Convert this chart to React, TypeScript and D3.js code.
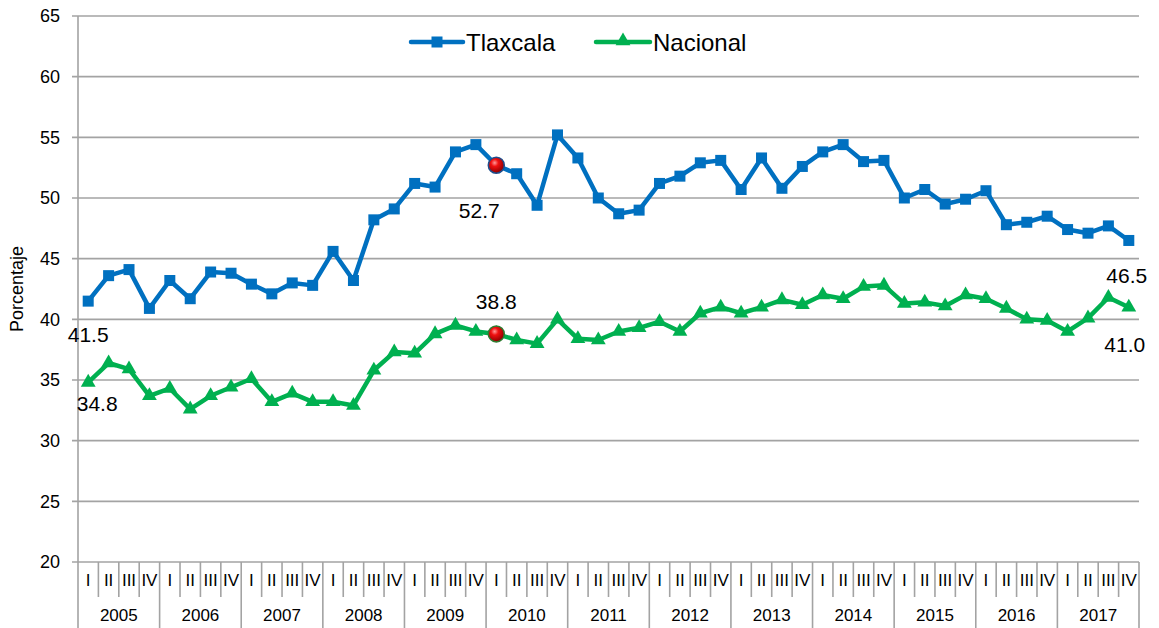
import React from "react";
import * as d3 from "d3";

// ── Datos ────────────────────────────────────────────────────────────────
const years = ["2005", "2006", "2007", "2008", "2009", "2010", "2011", "2012", "2013", "2014", "2015", "2016", "2017"];
const quarters = ["I", "II", "III", "IV"];

const tlaxcala = [
  41.5, 43.6, 44.1, 40.9,
  43.2, 41.7, 43.9, 43.8,
  42.9, 42.1, 43.0, 42.8,
  45.6, 43.2, 48.2, 49.1,
  51.2, 50.9, 53.8, 54.4,
  52.7, 52.0, 49.4, 55.2,
  53.3, 50.0, 48.7, 49.0,
  51.2, 51.8, 52.9, 53.1,
  50.7, 53.3, 50.8, 52.6,
  53.8, 54.4, 53.0, 53.1,
  50.0, 50.7, 49.5, 49.9,
  50.6, 47.8, 48.0, 48.5,
  47.4, 47.1, 47.7, 46.5,
];

const nacional = [
  34.8, 36.4, 35.9, 33.7,
  34.3, 32.6, 33.7, 34.4,
  35.1, 33.2, 33.9, 33.2,
  33.2, 32.9, 35.8, 37.3,
  37.2, 38.8, 39.5, 39.0,
  38.8, 38.3, 38.0, 40.0,
  38.4, 38.3, 39.0, 39.3,
  39.8, 39.0, 40.5, 41.0,
  40.5, 41.0, 41.6, 41.2,
  42.0, 41.7, 42.7, 42.8,
  41.3, 41.4, 41.1, 42.0,
  41.7, 40.9, 40.0, 39.9,
  39.0, 40.1, 41.8, 41.0,
];

const yTicks = [20, 25, 30, 35, 40, 45, 50, 55, 60, 65];
const highlightIdx = 20; // 2010 I

const W = 1159;
const H = 628;
const FONT = "'Liberation Sans', Arial, sans-serif";
const BLUE = "#0070C0";
const GREEN = "#00B050";
const GRID = "#a3a3a3";

export default function App() {
  const idx = d3.range(years.length * quarters.length);
  const x = d3.scaleBand<number>().domain(idx).range([78, 1139]).padding(0);
  const y = d3.scaleLinear().domain([20, 65]).range([562, 16]);
  const cx = (i: number) => (x(i) ?? 0) + x.bandwidth() / 2;
  const bw = x.bandwidth();

  const line = d3.line<number>().x((_, i) => cx(i)).y((d) => y(d));
  const sq = 11;
  const tri = d3.symbol().type(d3.symbolTriangle).size(95)() ?? "";

  const labelTxt = (v: number) => v.toFixed(1);
  const last = idx.length - 1;

  return (
    <svg
      width={W}
      height={H}
      style={{ position: "fixed", left: 0, top: 0, background: "#fff" }}
      fontFamily={FONT}
    >
      <defs>
        <radialGradient id="ball" cx="40%" cy="35%" r="65%">
          <stop offset="0%" stopColor="#ff9a9a" />
          <stop offset="35%" stopColor="#f01010" />
          <stop offset="100%" stopColor="#8a0000" />
        </radialGradient>
      </defs>
      <rect width={W} height={H} fill="#fff" />

      {/* Grid */}
      {yTicks.map((t) => (
        <g key={t}>
          <line x1={72} x2={1139} y1={y(t)} y2={y(t)} stroke={GRID} strokeWidth={1.6} />
          <text x={60} y={y(t)} dy="0.36em" textAnchor="end" fontSize={18} fill="#000">
            {t}
          </text>
        </g>
      ))}
      <line x1={78} x2={78} y1={y(65)} y2={H} stroke={GRID} strokeWidth={1.6} />

      {/* Eje de categorías */}
      {idx.map((i) => {
        const q = i % 4;
        const xl = x(i) ?? 0;
        return (
          <g key={i}>
            {i > 0 && (
              <line x1={xl} x2={xl} y1={562} y2={q === 0 ? H : 597} stroke={GRID} strokeWidth={1.6} />
            )}
            <text x={cx(i)} y={580} dy="0.36em" textAnchor="middle" fontSize={17} fill="#000">
              {quarters[q]}
            </text>
          </g>
        );
      })}
      <line x1={1139} x2={1139} y1={562} y2={H} stroke={GRID} strokeWidth={1.6} />
      {years.map((yr, k) => (
        <text
          key={yr}
          x={(x(k * 4) ?? 0) + bw * 2}
          y={615}
          dy="0.36em"
          textAnchor="middle"
          fontSize={17}
          fill="#000"
        >
          {yr}
        </text>
      ))}

      {/* Título eje Y */}
      <text
        transform={`translate(23,${y(42.5)}) rotate(-90)`}
        textAnchor="middle"
        fontSize={18}
        fill="#000"
      >
        Porcentaje
      </text>

      {/* Series */}
      <path d={line(tlaxcala) ?? ""} fill="none" stroke={BLUE} strokeWidth={4.5} strokeLinejoin="round" />
      {tlaxcala.map((v, i) => (
        <rect key={i} x={cx(i) - sq / 2} y={y(v) - sq / 2} width={sq} height={sq} fill={BLUE} />
      ))}
      <path d={line(nacional) ?? ""} fill="none" stroke={GREEN} strokeWidth={4.5} strokeLinejoin="round" />
      {nacional.map((v, i) => (
        <path key={i} d={tri} transform={`translate(${cx(i)},${y(v)})`} fill={GREEN} />
      ))}

      {/* Puntos destacados */}
      <circle cx={cx(highlightIdx)} cy={y(tlaxcala[highlightIdx])} r={8} fill="url(#ball)" stroke="#1f4e8c" strokeWidth={1.5} />
      <circle cx={cx(highlightIdx)} cy={y(nacional[highlightIdx])} r={8} fill="url(#ball)" stroke="#2e7d32" strokeWidth={1.5} />

      {/* Etiquetas de datos */}
      <g fontSize={21} fill="#000">
        <text x={cx(0)} y={y(tlaxcala[0]) + 41} textAnchor="middle">{labelTxt(tlaxcala[0])}</text>
        <text x={cx(0) + 9} y={y(nacional[0]) + 29} textAnchor="middle">{labelTxt(nacional[0])}</text>
        <text x={cx(highlightIdx) - 17} y={y(tlaxcala[highlightIdx]) + 53} textAnchor="middle">
          {labelTxt(tlaxcala[highlightIdx])}
        </text>
        <text x={cx(highlightIdx)} y={y(nacional[highlightIdx]) - 25} textAnchor="middle">
          {labelTxt(nacional[highlightIdx])}
        </text>
        <text x={cx(last) - 2} y={y(tlaxcala[last]) + 43} textAnchor="middle">{labelTxt(tlaxcala[last])}</text>
        <text x={cx(last) - 4} y={y(nacional[last]) + 45} textAnchor="middle">{labelTxt(nacional[last])}</text>
      </g>

      {/* Leyenda */}
      <g>
        <line x1={411} x2={463} y1={42} y2={42} stroke={BLUE} strokeWidth={4.5} strokeLinecap="round" />
        <rect x={437 - sq / 2} y={42 - sq / 2} width={sq} height={sq} fill={BLUE} />
        <text x={466} y={42} dy="0.36em" fontSize={24} fill="#000">Tlaxcala</text>
        <line x1={596} x2={650} y1={42} y2={42} stroke={GREEN} strokeWidth={4.5} strokeLinecap="round" />
        <path d={tri} transform="translate(623,41)" fill={GREEN} />
        <text x={653} y={42} dy="0.36em" fontSize={24} fill="#000">Nacional</text>
      </g>
    </svg>
  );
}
